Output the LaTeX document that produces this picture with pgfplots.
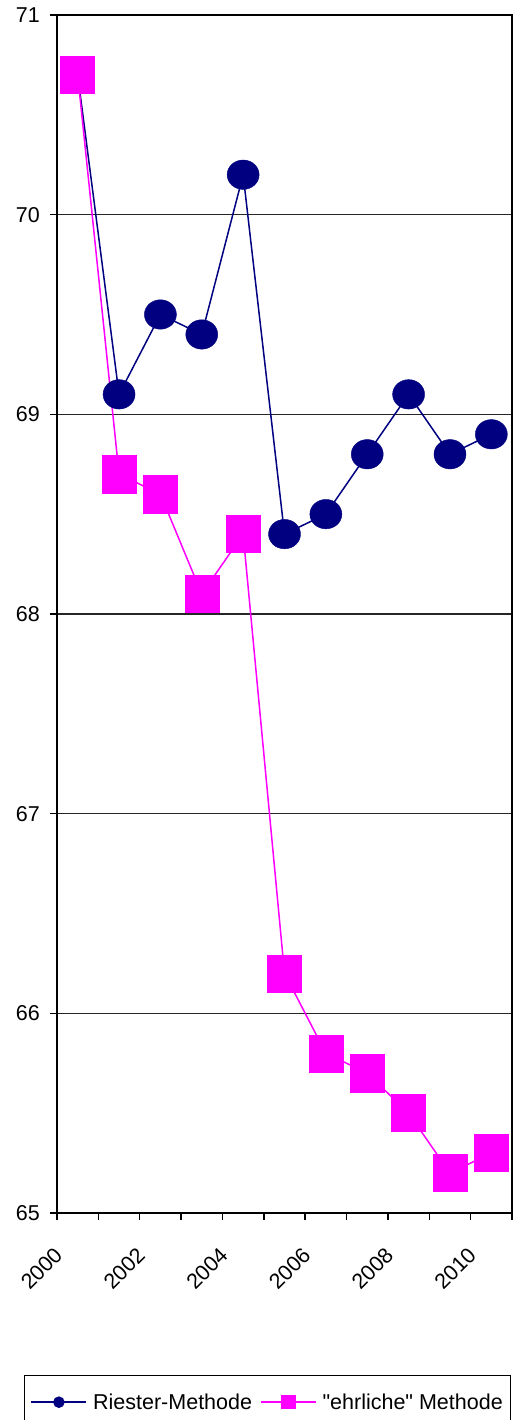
\documentclass[border=0pt]{standalone}
\usepackage{fontspec}
\setmainfont{Liberation Sans}[Ligatures=TeXOff]
\usepackage{pgfplots}
\usepackage{pgfplotstable}
\pgfplotsset{compat=1.18}

\definecolor{riester}{RGB}{0,0,128}
\definecolor{ehrlich}{RGB}{255,0,255}

% year (centre of the category), Riester method, "honest" method
\pgfplotstableread{
year   riester ehrlich
2000.5 70.7    70.7
2001.5 69.1    68.7
2002.5 69.5    68.6
2003.5 69.4    68.1
2004.5 70.2    68.4
2005.5 68.4    66.2
2006.5 68.5    65.8
2007.5 68.8    65.7
2008.5 69.1    65.5
2009.5 68.8    65.2
2010.5 68.9    65.3
}\lebenstable

\newcommand{\bigfont}{\fontsize{21.5}{25}\selectfont}

\begin{document}
\begin{tikzpicture}
\begin{axis}[
  name=ax,
  scale only axis,
  width=455pt, height=1198pt,
  xmin=2000, xmax=2011,
  ymin=65, ymax=71,
  xtick={2000,2002,...,2010},
  minor xtick={2001,2003,...,2011},
  xticklabels={2000,2002,2004,2006,2008,2010},
  ytick={65,...,71},
  xtick pos=bottom, ytick pos=left,
  tick align=outside,
  major tick length=7pt,
  minor tick length=7pt,
  ymajorgrids,
  grid style={black!85, line width=1.3pt},
  minor grid style={draw=none},
  axis line style={black, line width=1.5pt},
  tick style={black, line width=1.4pt},
  /pgf/number format/assume math mode=true,
  tick label style={font=\bigfont, inner sep=0pt},
  yticklabel style={xshift=-10pt},
  xticklabel style={xshift=-4pt, yshift=-26pt, rotate=45, anchor=north east},
  legend style={
    at={(0,0)}, anchor=north west, xshift=-33pt, yshift=-162pt,
    draw=black, line width=1.3pt, font=\bigfont,
    inner xsep=6pt, inner ysep=16pt,
    /tikz/every odd column/.append style={column sep=4pt},
    /tikz/every even column/.append style={column sep=6pt},
  },
  legend columns=2,
  legend cell align=left,
  legend image code/.code={
    \draw[mark repeat=2, mark phase=2]
      plot coordinates {(0pt,0pt) (27.5pt,0pt) (55pt,0pt)};
  },
]
% connecting lines first, markers on top
\addplot[riester, line width=1.5pt, forget plot] table[x=year, y=riester] {\lebenstable};
\addplot[ehrlich, line width=1.5pt, forget plot] table[x=year, y=ehrlich] {\lebenstable};
\addplot[only marks, mark=*, mark size=16pt, forget plot,
  mark options={draw=riester, fill=riester, yscale=0.92}]
  table[x=year, y=riester] {\lebenstable};
\addplot[only marks, mark=square*, mark size=17pt, forget plot,
  mark options={draw=ehrlich, fill=ehrlich, yscale=1.09}]
  table[x=year, y=ehrlich] {\lebenstable};

\addlegendimage{riester, line width=1.5pt, mark=*, mark size=5pt,
  mark options={fill=riester}}
\addlegendentry{Riester-Methode}
\addlegendimage{ehrlich, line width=1.5pt, mark=square*, mark size=6.5pt,
  mark options={fill=ehrlich}}
\addlegendentry{"ehrliche" Methode}
\end{axis}
\pgfresetboundingbox
\path[use as bounding box]
  ([xshift=-57pt, yshift=15pt]ax.north west)
  rectangle ([xshift=5pt, yshift=-207pt]ax.south east);
\end{tikzpicture}
\end{document}
